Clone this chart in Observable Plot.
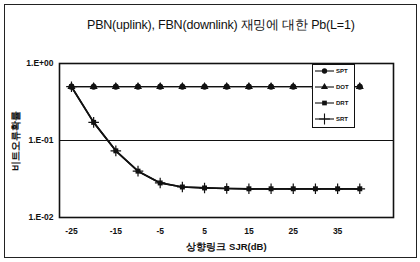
<!DOCTYPE html>
<html>
<head>
<meta charset="utf-8">
<script src="https://cdn.jsdelivr.net/npm/d3@7"></script>
<script src="https://cdn.jsdelivr.net/npm/@observablehq/plot@0.6"></script>
<style>
  html, body { margin: 0; padding: 0; background: #fff; }
  #wrap { position: relative; width: 420px; height: 262px; overflow: hidden; font-family: "Liberation Sans", Arial, sans-serif; }
  #border { position: absolute; left: 4px; top: 4px; width: 413px; height: 254px; border: 1px solid #222; box-sizing: border-box; }
  #title { position: absolute; left: 87px; top: 17px; font-size: 12.5px; white-space: nowrap; color: #111; letter-spacing: -0.2px; }
  #legend { position: absolute; left: 312px; top: 64px; }
</style>
</head>
<body>
<div id="wrap">
  <div id="border"></div>
  <div id="title">PBN(uplink), FBN(downlink) 재밍에 대한 Pb(L=1)</div>
  <div id="chart"></div>
  <div id="legend"></div>
</div>
<script>
const xValues = [-25, -20, -15, -10, -5, 0, 5, 10, 15, 20, 25, 30, 35, 40];
const SPT = [0.5, 0.5, 0.5, 0.5, 0.5, 0.5, 0.5, 0.5, 0.5, 0.5, 0.5, 0.5, 0.5, 0.5];
const DOT = [0.5, 0.5, 0.5, 0.5, 0.5, 0.5, 0.5, 0.5, 0.5, 0.5, 0.5, 0.5, 0.5, 0.5];
const DRT = [0.5, 0.172, 0.0734, 0.040, 0.0281, 0.0249, 0.0242, 0.0238, 0.0236, 0.0236, 0.0236, 0.0236, 0.0236, 0.0236];
const SRT = [0.5, 0.172, 0.0734, 0.040, 0.0281, 0.0249, 0.0242, 0.0238, 0.0236, 0.0236, 0.0236, 0.0236, 0.0236, 0.0236];
const seriesNames = ["SPT", "DOT", "DRT", "SRT"];
const seriesSymbols = ["circle", "triangle", "square", "plus"];
const xTicks = [-25, -15, -5, 5, 15, 25, 35];
const yTicks = [1, 0.1, 0.01];
const yTickLabels = ["1.E+00", "1.E-01", "1.E-02"];
const xLabel = "상향링크 SJR(dB)";
const yLabel = "비트오류확률";

const seriesValues = [SPT, DOT, DRT, SRT];
const data = seriesNames.map((name, i) => xValues.map((x, j) => ({series: name, x, y: seriesValues[i][j]})));

const marks = [
  Plot.ruleY([0.1], {stroke: "#111", strokeWidth: 1}),
  Plot.frame({stroke: "#111", strokeWidth: 1.6}),
  Plot.axisX({ticks: xTicks, tickSize: 0, tickPadding: 10, tickFormat: d => String(d),
    label: xLabel, labelAnchor: "center", labelArrow: "none", labelOffset: 32,
    fontWeight: "bold"}),
  Plot.axisY({ticks: yTicks, tickSize: 0, tickPadding: 6, tickFormat: d => yTickLabels[yTicks.indexOf(d)],
    label: yLabel, labelAnchor: "center", labelArrow: "none", labelOffset: 47,
    fontWeight: "bold"})
];
data.forEach((rows, i) => {
  marks.push(Plot.line(rows, {x: "x", y: "y", stroke: "#111", strokeWidth: i >= 2 ? 1.7 : 1.2}));
});
data.forEach((rows, i) => {
  const sym = seriesSymbols[i];
  if (sym === "plus") {
    marks.push(Plot.dot(rows, {x: "x", y: "y", symbol: sym, r: 3.5, stroke: "#111", strokeWidth: 1.2}));
  } else {
    marks.push(Plot.dot(rows, {x: "x", y: "y", symbol: sym, r: sym === "square" ? 2.8 : 3, fill: "#111", stroke: "none"}));
  }
});

const chart = Plot.plot({
  width: 420,
  height: 262,
  marginTop: 63,
  marginLeft: 59,
  marginRight: 27,
  marginBottom: 45,
  style: {fontFamily: "Liberation Sans, Arial, sans-serif", fontSize: "8.5px", color: "#111", background: "transparent"},
  x: {domain: [-27.7, 47.6]},
  y: {type: "log", domain: [0.01, 1]},
  marks
});
d3.select(chart).selectAll('[aria-label="y-axis label"] text, [aria-label="x-axis label"] text')
  .attr("font-size", 9.5);
document.getElementById("chart").appendChild(chart);

// legend
const lw = 43, lh = 64;
const lsvg = d3.select("#legend").append("svg").attr("width", lw).attr("height", lh)
  .style("font-family", "Liberation Sans, Arial, sans-serif");
lsvg.append("rect").attr("x", 0.5).attr("y", 0.5).attr("width", lw - 1).attr("height", lh - 1)
  .attr("fill", "#fff").attr("stroke", "#111").attr("stroke-width", 1);
const symMap = {circle: d3.symbolCircle, triangle: d3.symbolTriangle, square: d3.symbolSquare, plus: d3.symbolPlus};
seriesNames.forEach((name, i) => {
  const cy = 7 + i * 16;
  lsvg.append("line").attr("x1", 3).attr("x2", 22).attr("y1", cy).attr("y2", cy)
    .attr("stroke", "#111").attr("stroke-width", 1.1);
  const sym = seriesSymbols[i];
  const path = d3.symbol(symMap[sym], sym === "plus" ? 40 : 22)();
  const p = lsvg.append("path").attr("d", path).attr("transform", `translate(12.5,${cy})`);
  if (sym === "plus") p.attr("fill", "none").attr("stroke", "#111").attr("stroke-width", 1.1);
  else p.attr("fill", "#111");
  lsvg.append("text").attr("x", 24).attr("y", cy).attr("dy", "0.35em")
    .attr("font-size", 6).attr("font-weight", "bold").attr("fill", "#111").text(name);
});
</script>
</body>
</html>
